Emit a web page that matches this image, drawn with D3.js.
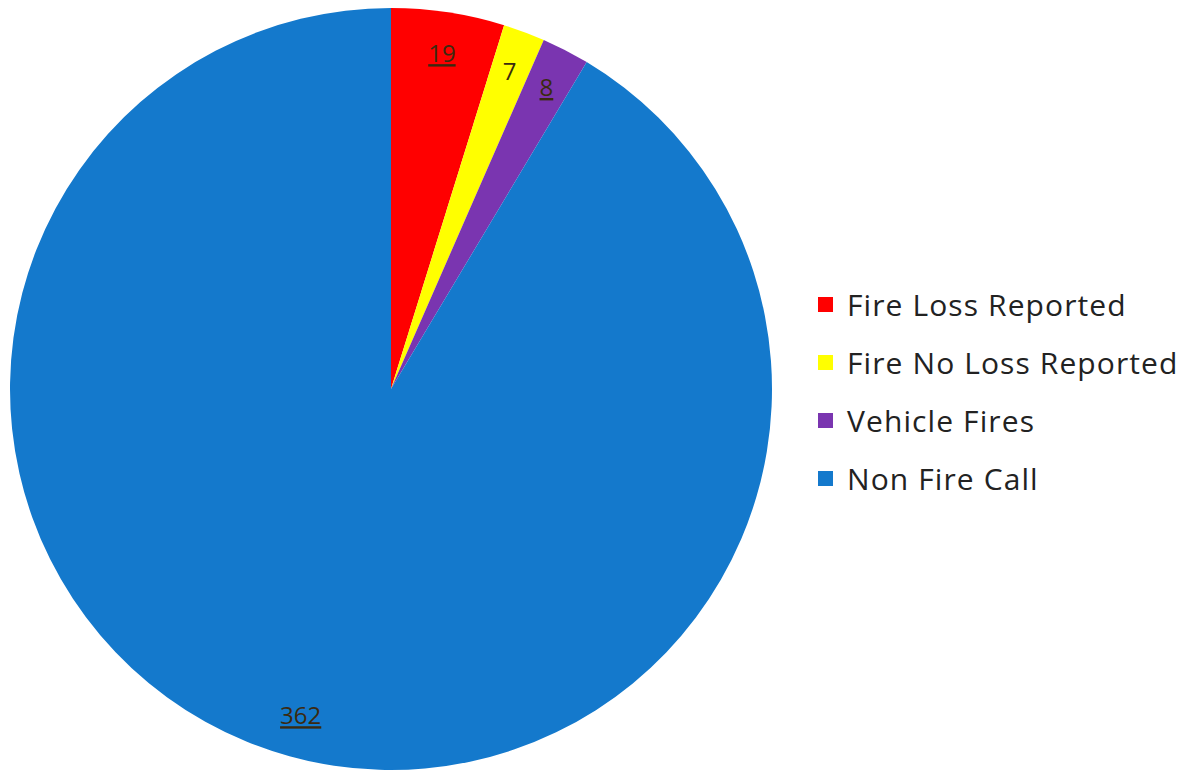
<!DOCTYPE html>
<html>
<head>
<meta charset="utf-8">
<script src="https://cdn.jsdelivr.net/npm/d3@7"></script>
<style>
  body { margin: 0; background: #fff; }
  svg { display: block; }
</style>
</head>
<body>
<svg id="chart" width="1188" height="773"></svg>
<script>
const categories = ["Fire Loss Reported", "Fire No Loss Reported", "Vehicle Fires", "Non Fire Call"];
const values = [19, 7, 8, 362];
const colors = ["#ff0000", "#ffff00", "#7a35b0", "#1479cc"];

const svg = d3.select("#chart"),
      cx = 391, cy = 389, radius = 381;

const pie = d3.pie().sort(null).value(d => d)(values);
const arc = d3.arc().innerRadius(0).outerRadius(radius);
const labelArc = d3.arc().innerRadius(radius * 0.89).outerRadius(radius * 0.89);

const g = svg.append("g").attr("transform", `translate(${cx},${cy})`);

g.selectAll("path")
  .data(pie)
  .join("path")
  .attr("d", arc)
  .attr("fill", (d, i) => colors[i]);

g.selectAll("text")
  .data(pie)
  .join("text")
  .attr("transform", d => `translate(${labelArc.centroid(d)})`)
  .attr("text-anchor", "middle")
  .attr("dy", "0.35em")
  .attr("font-family", "Open Sans, sans-serif")
  .attr("font-size", 24)
  .attr("fill", "#3a2a10")
  .attr("text-decoration", (d, i) => i === 1 ? null : "underline")
  .text(d => d.data);

// legend
const legend = svg.append("g").attr("transform", "translate(818,297)");
const item = legend.selectAll("g")
  .data(categories)
  .join("g")
  .attr("transform", (d, i) => `translate(0,${i * 58})`);

item.append("rect")
  .attr("width", 15).attr("height", 15)
  .attr("fill", (d, i) => colors[i]);

item.append("text")
  .attr("x", 29).attr("y", 19)
  .attr("font-family", "Open Sans, sans-serif")
  .attr("font-size", 30)
  .attr("letter-spacing", 1.1)
  .attr("fill", "#222")
  .text(d => d);
</script>
</body>
</html>
